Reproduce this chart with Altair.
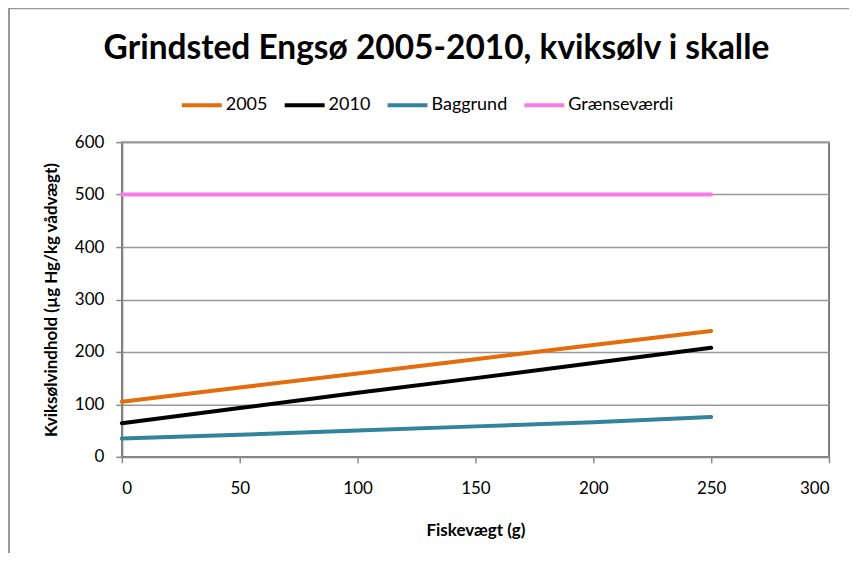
import altair as alt
import pandas as pd

weights = [0, 50, 100, 150, 200, 250]
series_names = ["2005", "2010", "Baggrund", "Grænseværdi"]
values_2005 = [105, 132, 159, 186, 213, 240]
values_2010 = [64, 93, 122, 150, 179, 208]
values_bag = [35, 42, 50, 58, 66, 76]
values_limit = [500, 500, 500, 500, 500, 500]
colors = ["#E46C0A", "#000000", "#31849B", "#F77BE8"]
title_text = "Grindsted Engsø 2005-2010,  kviksølv i skalle"

rows = []
for name, vals in zip(series_names, [values_2005, values_2010, values_bag, values_limit]):
    for w, v in zip(weights, vals):
        rows.append({"Serie": name, "w": w, "v": v})
df = pd.DataFrame(rows)

FONT = "Lato"

lines = alt.Chart(df).mark_line(strokeWidth=4, strokeCap="round", clip=False).encode(
    x=alt.X("w:Q", scale=alt.Scale(domain=[0, 300], nice=False),
            axis=alt.Axis(title="Fiskevægt (g)", values=[0, 50, 100, 150, 200, 250, 300],
                          grid=False, tickSize=6, labelPadding=18, titlePadding=26)),
    y=alt.Y("v:Q", scale=alt.Scale(domain=[0, 600], nice=False),
            axis=alt.Axis(title="Kviksølvindhold  (µg Hg/kg vådvægt)", values=[0, 100, 200, 300, 400, 500, 600],
                          grid=True, tickSize=6, labelPadding=12, titlePadding=14)),
    color=alt.Color("Serie:N", sort=series_names,
                    scale=alt.Scale(domain=series_names, range=colors),
                    legend=alt.Legend(title=None, orient="none", direction="horizontal",
                                      legendX=58, legendY=-59,
                                      symbolType="stroke", symbolSize=1600, symbolStrokeWidth=4,
                                      labelFontSize=18, labelFont=FONT, columnPadding=9,
                                      labelOffset=2, symbolOffset=0)),
    detail="Serie:N",
)

frame = alt.Chart(pd.DataFrame({"a": [0]})).mark_rule(color="#999999", strokeWidth=2, clip=False)
frame_top = frame.encode(x=alt.value(-114), x2=alt.value(760), y=alt.value(-134))
frame_left = frame.encode(x=alt.value(-113), y=alt.value(-134), y2=alt.value(420))

title = alt.Chart(pd.DataFrame({"t": [title_text]})).mark_text(
    font=FONT, fontSize=33.5, fontWeight="bold", color="#000000",
    align="center", baseline="alphabetic", clip=False,
).encode(text="t:N", x=alt.value(315), y=alt.value(-83))

chart = alt.layer(frame_top, frame_left, title, lines).properties(
    width=708, height=315,
    autosize=alt.AutoSizeParams(type="none"),
    padding={"left": 114, "top": 134, "right": 20, "bottom": 96},
).configure_view(stroke="#555555", strokeWidth=1.5).configure_axis(
    domainColor="#888888", domainWidth=2, tickColor="#888888", tickWidth=1.5,
    gridColor="#999999", gridWidth=1.5,
    labelFont=FONT, labelFontSize=17, labelColor="#000000",
    titleFont=FONT, titleFontSize=17, titleFontWeight="bold", titleColor="#000000",
)

chart.save("out.html", embed_options={"renderer": "svg", "actions": False})
